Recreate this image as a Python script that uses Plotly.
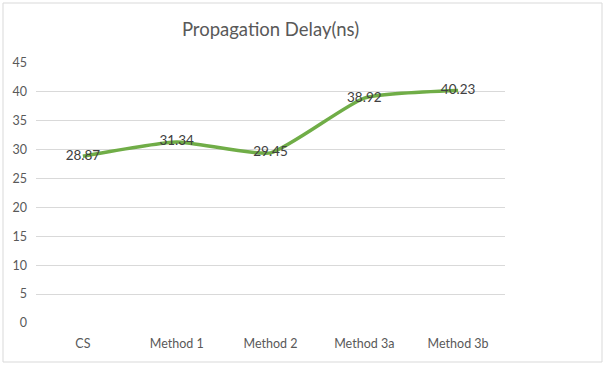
import plotly.graph_objects as go

categories = ["CS", "Method 1", "Method 2", "Method 3a", "Method 3b"]
delay_ns = [28.87, 31.34, 29.45, 38.92, 40.23]
y_ticks = [0, 5, 10, 15, 20, 25, 30, 35, 40, 45]

FONT = "Lato, 'Open Sans', sans-serif"

fig = go.Figure()
fig.add_trace(go.Scatter(
    x=categories, y=delay_ns,
    mode="lines+text",
    line=dict(color="#70AD47", width=3.5, shape="spline", smoothing=0.5),
    text=[f"{v:.2f}" for v in delay_ns],
    textposition="middle center",
    textfont=dict(family=FONT, size=13.5, color="#404040"),
    hoverinfo="skip",
    cliponaxis=False,
))

PW, PH = 469, 260
fig.update_layout(
    width=605, height=368,
    margin=dict(l=36, r=100, t=63, b=45),
    paper_bgcolor="white", plot_bgcolor="white",
    showlegend=False,
    title=dict(text="Propagation Delay(ns)", x=0.5, xanchor="center", y=1 - 30 / 368, yanchor="middle",
               xref="paper",
               font=dict(family=FONT, size=18.5, color="#595959")),
    xaxis=dict(type="category", range=[-0.5, 4.5], showgrid=False, zeroline=False,
               showline=False, ticks="", tickfont=dict(family=FONT, size=12.5, color="#595959"),
               ticklabelstandoff=11),
    yaxis=dict(range=[0, 45], tickvals=y_ticks, showgrid=True, gridcolor="#D9D9D9",
               gridwidth=1, zeroline=False, showline=False, ticks="",
               tickfont=dict(family=FONT, size=12.5, color="#595959"),
               ticklabelstandoff=8),
    shapes=[dict(type="rect", xref="paper", yref="paper",
                 x0=(3 - 36) / PW, x1=(602 - 36) / PW,
                 y0=(323 - 362) / PH, y1=(323 - 3) / PH,
                 line=dict(color="#D9D9D9", width=1))],
)

fig.write_html("out.html", config={"displayModeBar": False},
               post_script="document.body.style.margin='0';")
